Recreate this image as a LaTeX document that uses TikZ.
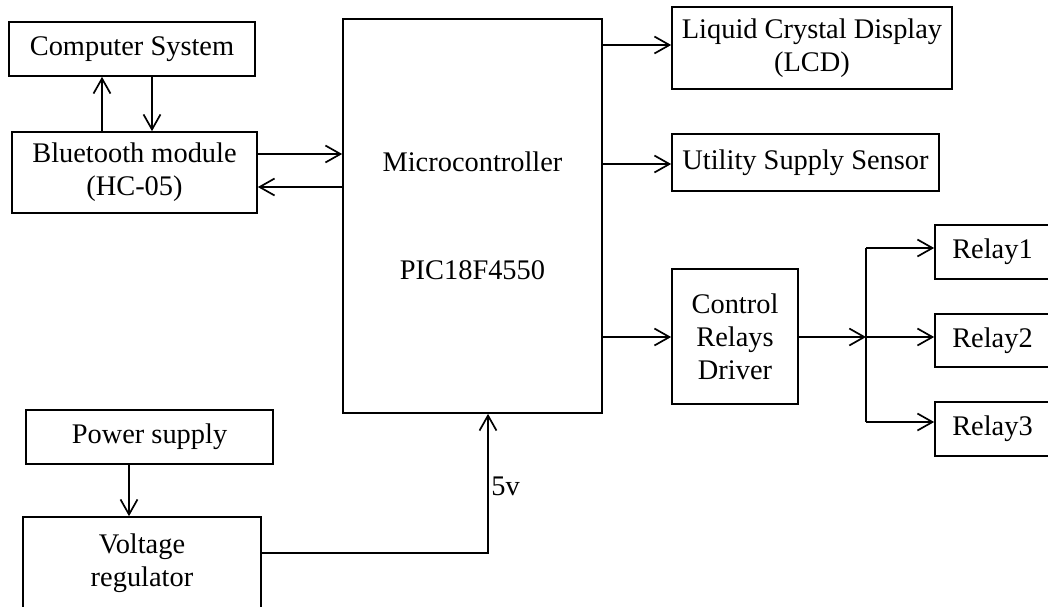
\documentclass[tikz,border=0pt]{standalone}
\usepackage{fontspec}
\setmainfont{Liberation Serif}
\usetikzlibrary{arrows.meta}
\begin{document}
\begin{tikzpicture}[x=0.5pt,y=-0.5pt,
  box/.style={draw, line width=0.85pt, align=center, inner sep=0pt, font=\fontsize{14.2}{16.5}\selectfont},
  arr/.style={line width=0.85pt, -{Straight Barb[length=7.5pt,width=8.5pt,line width=0.85pt]}},
  ln/.style={line width=0.85pt},
  lbl/.style={inner sep=0pt, font=\fontsize{14.2}{16.5}\selectfont}]
\path[use as bounding box, clip] (0,0) rectangle (1048,606);
\fill[white] (0,0) rectangle (1048,606);
% boxes
\node[box, minimum width=123pt, minimum height=27pt] (comp) at (132,49) {Computer System};
\node[box, minimum width=122.5pt, minimum height=40.5pt] (bt) at (134.5,172.5) {Bluetooth module\\(HC-05)};
\node[box, minimum width=129.5pt, minimum height=197pt] (micro) at (472.5,216) {Microcontroller\\[37.5pt]PIC18F4550};
\node[box, minimum width=140pt, minimum height=41pt] (lcd) at (812,48) {Liquid Crystal Display\\(LCD)};
\node[box, minimum width=133.5pt, minimum height=28.5pt] (uss) at (805.5,162.5) {Utility Supply Sensor};
\node[box, minimum width=63pt, minimum height=67.5pt] (crd) at (735,336.5) {Control\\Relays\\Driver};
\node[box, minimum width=57.5pt, minimum height=27pt] (r1) at (992.5,252) {Relay1};
\node[box, minimum width=57.5pt, minimum height=26.5pt] (r2) at (992.5,340.5) {Relay2};
\node[box, minimum width=57.5pt, minimum height=27pt] (r3) at (992.5,429) {Relay3};
\node[box, minimum width=123.5pt, minimum height=27pt] (ps) at (149.5,437) {Power supply};
\node[box, minimum width=119pt, minimum height=46pt] (vr) at (142,563) {Voltage\\regulator};
% connectors
\draw[arr] (bt.north -| 102,0) -- (comp.south -| 102,0);
\draw[arr] (comp.south -| 152,0) -- (bt.north -| 152,0);
\draw[arr] (bt.east |- 0,154) -- (micro.west |- 0,154);
\draw[arr] (micro.west |- 0,187) -- (bt.east |- 0,187);
\draw[arr] (micro.east |- 0,45) -- (lcd.west |- 0,45);
\draw[arr] (micro.east |- 0,164) -- (uss.west |- 0,164);
\draw[arr] (micro.east |- 0,337) -- (crd.west |- 0,337);
\coordinate (J) at (866,337);
\coordinate (J1) at (866,248);
\coordinate (J3) at (866,422);
\draw[arr] (crd.east |- J) -- (J);
\draw[ln] (J1) -- (J3);
\draw[arr] (J1) -- (r1.west |- J1);
\draw[arr] (J) -- (r2.west |- J);
\draw[arr] (J3) -- (r3.west |- J3);
\draw[arr] (ps.south -| 129,0) -- (vr.north -| 129,0);
\coordinate (K) at (488,553);
\draw[arr] (vr.east |- K) -- (K) -- (micro.south -| K);
\node[lbl, anchor=west] (v5) at (491,486) {5v};
\end{tikzpicture}
\end{document}
